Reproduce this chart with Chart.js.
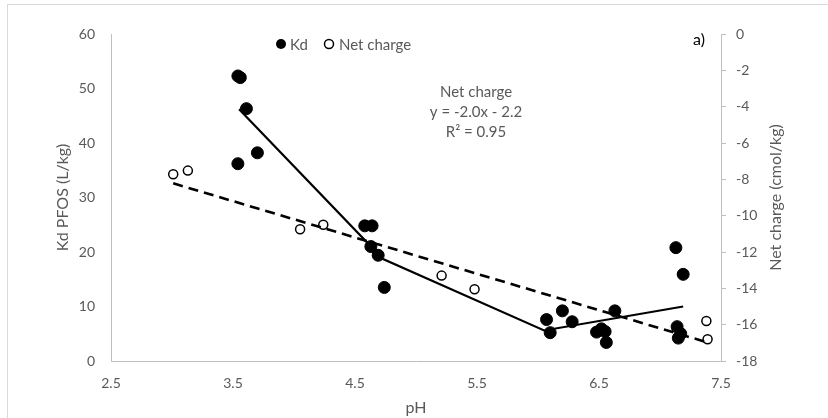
<!DOCTYPE html>
<html>
<head>
<meta charset="utf-8">
<script src="https://cdn.jsdelivr.net/npm/chart.js@4.4.0/dist/chart.umd.min.js"></script>
<style>
  html, body { margin: 0; padding: 0; background: #fff; overflow: hidden; }
  #wrap { position: relative; width: 828px; height: 418px; }
  #frame { position: absolute; left: 7px; top: 4px; width: 900px; height: 500px; border: 1px solid #d9d9d9; }
  #chart { position: absolute; left: 0; top: 0; }
</style>
</head>
<body>
<div id="wrap">
  <div id="frame"></div>
  <canvas id="chart" width="828" height="418"></canvas>
</div>
<script>
// Kd of PFOS vs soil pH
const kdPH = [3.54, 3.56, 3.61, 3.70, 3.54, 4.58, 4.64, 4.63, 4.69, 4.74,
              6.07, 6.10, 6.20, 6.28, 6.48, 6.52, 6.55, 6.56, 6.63,
              7.13, 7.19, 7.14, 7.17, 7.15];
const kdValues = [52.3, 52.0, 46.3, 38.2, 36.2, 24.8, 24.8, 21.0, 19.4, 13.5,
                  7.6, 5.2, 9.2, 7.2, 5.3, 5.9, 5.4, 3.4, 9.2,
                  20.8, 15.9, 6.3, 5.0, 4.2];

// net charge vs pH
const ncPH = [3.01, 3.13, 4.05, 4.24, 5.21, 5.48, 7.38, 7.39];
const ncValues = [-7.72, -7.52, -10.75, -10.5, -13.3, -14.05, -15.8, -16.8];

// piecewise fit through the Kd points
const kdFitPH = [3.55, 4.73, 6.05, 7.19];
const kdFitValues = [46.2, 18.7, 5.6, 10.0];

// linear fit of net charge: y = -2.0x - 2.2
const ncFitPH = [3.01, 7.39];
const ncFitValues = [-8.22, -16.98];

const xTicks = [2.5, 3.5, 4.5, 5.5, 6.5, 7.5];
const legendLabels = ['Kd', 'Net charge'];
const fitLabel = ['Net charge', 'y = -2.0x - 2.2', 'R\u00B2 = 0.95'];
const panelLabel = 'a)';
const rightTitle = 'Net charge (cmol/kg)';

const FONT = 'Lato, "Open Sans", sans-serif';
const GREY = '#595959';
const AXIS = '#bfbfbf';

const toPts = (xs, ys) => xs.map((x, i) => ({ x: x, y: ys[i] }));

// legend, equation text, panel letter and the right axis title (reads bottom-up)
const extras = {
  id: 'extras',
  afterDraw(chart) {
    const ctx = chart.ctx;
    const area = chart.chartArea;
    ctx.save();
    ctx.textBaseline = 'middle';
    ctx.font = '15px ' + FONT;

    ctx.fillStyle = '#000';
    ctx.beginPath();
    ctx.arc(281, 44, 5, 0, Math.PI * 2);
    ctx.fill();
    ctx.fillStyle = GREY;
    ctx.textAlign = 'left';
    ctx.fillText(legendLabels[0], 290, 45);

    ctx.strokeStyle = '#000';
    ctx.lineWidth = 1.5;
    ctx.beginPath();
    ctx.arc(329, 44, 4.5, 0, Math.PI * 2);
    ctx.stroke();
    ctx.fillText(legendLabels[1], 339, 45);

    ctx.textAlign = 'center';
    fitLabel.forEach((t, i) => ctx.fillText(t, 476, 92 + i * 20));

    ctx.save();
    ctx.translate(776, (area.top + area.bottom) / 2);
    ctx.rotate(-Math.PI / 2);
    ctx.font = '16px ' + FONT;
    ctx.fillText(rightTitle, 0, 0);
    ctx.restore();

    ctx.fillStyle = '#000';
    ctx.font = '16px ' + FONT;
    ctx.fillText(panelLabel, 699, 40);
    ctx.restore();
  }
};

new Chart(document.getElementById('chart'), {
  type: 'scatter',
  data: {
    datasets: [
      {
        label: 'Net charge fit',
        type: 'line',
        data: toPts(ncFitPH, ncFitValues),
        yAxisID: 'y2',
        borderColor: '#000',
        borderWidth: 2.6,
        borderDash: [10, 6],
        pointRadius: 0,
        showLine: true,
        order: 0
      },
      {
        label: 'Kd fit',
        type: 'line',
        data: toPts(kdFitPH, kdFitValues),
        yAxisID: 'y',
        borderColor: '#000',
        borderWidth: 2.2,
        pointRadius: 0,
        showLine: true,
        order: 0
      },
      {
        label: legendLabels[1],
        data: toPts(ncPH, ncValues),
        yAxisID: 'y2',
        backgroundColor: '#fff',
        borderColor: '#000',
        borderWidth: 1.5,
        pointRadius: 4.5,
        order: 2
      },
      {
        label: legendLabels[0],
        data: toPts(kdPH, kdValues),
        yAxisID: 'y',
        backgroundColor: '#000',
        borderColor: '#000',
        borderWidth: 1,
        pointRadius: 6,
        order: 1
      }
    ]
  },
  options: {
    responsive: false,
    animation: false,
    layout: { padding: { top: 34, left: 0, right: 0, bottom: 0 } },
    plugins: { legend: { display: false }, tooltip: { enabled: false } },
    scales: {
      x: {
        type: 'linear',
        min: 2.5,
        max: 7.5,
        afterBuildTicks: s => { s.ticks = xTicks.map(v => ({ value: v })); },
        afterFit: s => { s.height = 57; },
        grid: { display: false, drawTicks: false },
        border: { color: AXIS, width: 1 },
        ticks: { color: GREY, font: { family: FONT, size: 14 }, padding: 14,
                 callback: v => v.toFixed(1) },
        title: { display: true, text: 'pH', color: GREY,
                 font: { family: FONT, size: 16 }, padding: { top: 0, bottom: 1 } }
      },
      y: {
        position: 'left',
        min: 0,
        max: 60,
        ticks: { stepSize: 10, color: GREY, font: { family: FONT, size: 14 }, padding: 16 },
        afterFit: s => { s.width = 111; },
        grid: { display: false, drawTicks: false },
        border: { color: AXIS, width: 1 },
        title: { display: true, text: 'Kd PFOS (L/kg)', color: GREY,
                 font: { family: FONT, size: 16 }, padding: { top: 53, bottom: 0 } }
      },
      y2: {
        position: 'right',
        min: -18,
        max: 0,
        ticks: { stepSize: 2, color: GREY, font: { family: FONT, size: 14 }, padding: 10 },
        afterFit: s => { s.width = 107; },
        grid: { drawOnChartArea: false, drawTicks: true, tickLength: 5, color: AXIS },
        border: { color: AXIS, width: 1 },
        title: { display: false }
      }
    }
  },
  plugins: [extras]
});
</script>
</body>
</html>
